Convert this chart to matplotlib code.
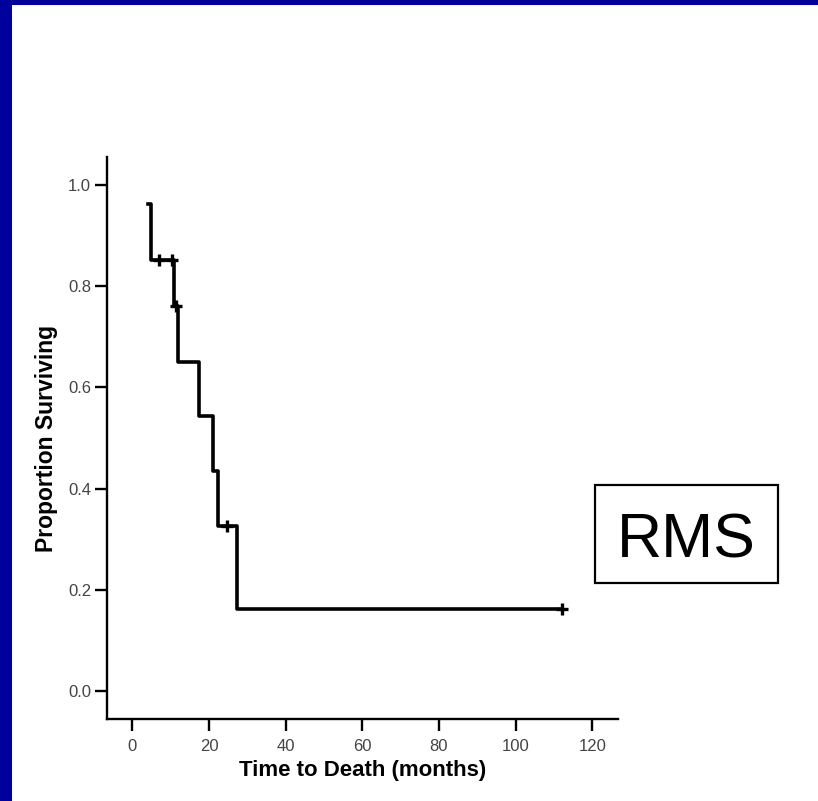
import matplotlib.pyplot as plt
from matplotlib.patches import Rectangle
from matplotlib.ticker import FormatStrFormatter
import numpy as np

# Kaplan-Meier step curve (time in months, proportion surviving)
step_times = [4.0, 5.0, 10.9, 11.8, 17.4, 21.1, 22.3, 27.2, 112.1]
step_surv = [0.962, 0.852, 0.760, 0.651, 0.544, 0.435, 0.326, 0.162, 0.162]

# censored observations
censor_times = [7.0, 10.3, 11.4, 24.6, 112.1]
censor_surv = [0.852, 0.852, 0.760, 0.326, 0.162]

x_ticks = [0, 20, 40, 60, 80, 100, 120]
y_ticks = [0.0, 0.2, 0.4, 0.6, 0.8, 1.0]

W, H = 818, 801
BLUE = "#00009C"

plt.rcParams['font.family'] = ['Liberation Sans', 'DejaVu Sans']

fig = plt.figure(figsize=(W / 100, H / 100), dpi=100)
fig.patch.set_facecolor("white")

# slide border (blue strip along top and left)
fig.patches.append(Rectangle((0, 1 - 5 / H), 1, 5 / H, transform=fig.transFigure,
                             facecolor=BLUE, edgecolor="none"))
fig.patches.append(Rectangle((0, 0), 12 / W, 1, transform=fig.transFigure,
                             facecolor=BLUE, edgecolor="none"))

ax = fig.add_axes([107 / W, 1 - 719 / H, (618 - 107) / W, (719 - 157) / H])

ax.step(step_times, step_surv, where='post', color="black", lw=2.6)
ax.plot(censor_times, censor_surv, linestyle="none", marker="+", color="black",
        markersize=9, markeredgewidth=2.4)

ax.set_xlim(-6.6, 126.7)
ax.set_ylim(-0.055, 1.055)
ax.set_xticks(x_ticks)
ax.set_yticks(y_ticks)
ax.yaxis.set_major_formatter(FormatStrFormatter('%.1f'))

for s in ["top", "right"]:
    ax.spines[s].set_visible(False)
for s in ["left", "bottom"]:
    ax.spines[s].set_linewidth(1.7)

ax.tick_params(axis="both", length=8.5, width=1.7, labelsize=12, labelcolor="#444444")
ax.tick_params(axis="x", pad=6)
ax.tick_params(axis="y", pad=3)

ax.set_xlabel("Time to Death (months)", fontsize=16, fontweight="bold", labelpad=4)
ax.set_ylabel("Proportion Surviving", fontsize=16.5, fontweight="bold", labelpad=7)

# "RMS" label box
fig.patches.append(Rectangle((595 / W, 1 - 583 / H), 183 / W, 98 / H, transform=fig.transFigure,
                             facecolor="white", edgecolor="black", lw=1.6))
fig.text(686.5 / W, 1 - 558 / H, "RMS", fontsize=45, ha="center", va="baseline")

fig.savefig("out.png", dpi=100)
